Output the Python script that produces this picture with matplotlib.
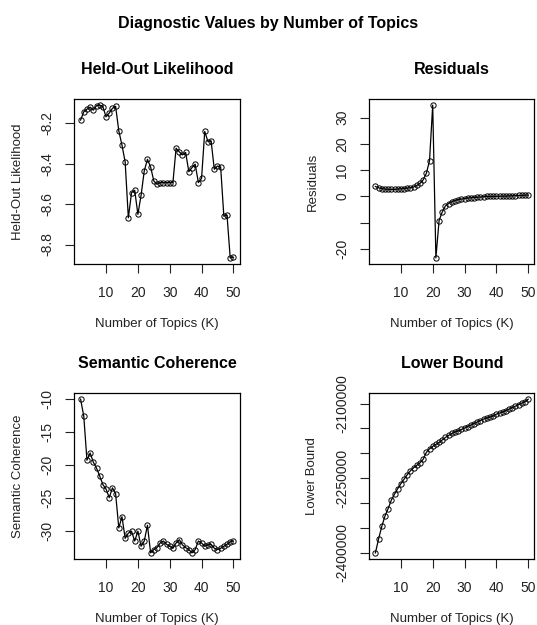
import numpy as np
import matplotlib
matplotlib.use("Agg")
import matplotlib.pyplot as plt

plt.rcParams['font.family'] = ['Liberation Sans', 'DejaVu Sans']

# number of topics
K = list(range(2, 51))

heldout = [-8.185, -8.144, -8.131, -8.121, -8.136, -8.114, -8.111, -8.119, -8.169, -8.150,
           -8.127, -8.117, -8.238, -8.309, -8.392, -8.668, -8.544, -8.532, -8.651, -8.557,
           -8.436, -8.379, -8.417, -8.486, -8.502, -8.494, -8.494, -8.494, -8.494, -8.494,
           -8.324, -8.342, -8.357, -8.345, -8.440, -8.420, -8.403, -8.494, -8.473, -8.241,
           -8.291, -8.288, -8.428, -8.412, -8.417, -8.660, -8.655, -8.866, -8.863]

residuals = [3.8, 3.3, 3.0, 2.8, 2.7, 2.7, 2.7, 2.8, 2.9, 3.0,
             3.2, 3.3, 3.6, 4.2, 5.0, 6.3, 8.8, 13.6, 34.8, -23.4,
             -9.2, -5.9, -3.6, -2.7, -2.0, -1.6, -1.2, -1.0, -0.8, -0.6,
             -0.5, -0.4, -0.3, -0.2, -0.1, 0.0, 0.0, 0.0, 0.1, 0.1,
             0.1, 0.1, 0.2, 0.2, 0.3, 0.4, 0.4, 0.5, 0.5]

semcoh = [-10.0, -12.6, -19.3, -18.2, -19.6, -20.5, -21.7, -23.0, -23.7, -25.0,
          -23.5, -24.4, -29.6, -27.9, -31.2, -30.4, -30.1, -31.6, -30.1, -32.4,
          -31.6, -29.2, -33.4, -32.9, -32.6, -31.9, -31.6, -32.1, -32.4, -32.7,
          -31.9, -31.4, -32.2, -32.6, -32.9, -33.4, -32.9, -31.6, -31.9, -32.4,
          -32.2, -32.1, -32.7, -32.9, -32.7, -32.4, -32.1, -31.7, -31.6]

lbound = [-2400000, -2372000, -2347000, -2326000, -2311000, -2294000, -2282000, -2271000,
          -2261000, -2252000, -2243000, -2235000, -2229000, -2224000, -2219000, -2212000,
          -2198000, -2191000, -2186000, -2182000, -2178000, -2173000, -2168000, -2164000,
          -2160000, -2157000, -2155000, -2152000, -2149000, -2146000, -2143000, -2140000,
          -2137000, -2134000, -2131000, -2129000, -2127000, -2125000, -2121000, -2119000,
          -2117000, -2114000, -2111000, -2108000, -2105000, -2102000, -2099000, -2096000,
          -2091000]

x_ticks = [10, 20, 30, 40, 50]

panels = [
    ("Held-Out Likelihood", heldout, [-8.2, -8.4, -8.6, -8.8], ["-8.2", "-8.4", "-8.6", "-8.8"]),
    ("Residuals", residuals, [-20, -10, 0, 10, 20, 30], ["-20", "", "0", "10", "20", "30"]),
    ("Semantic Coherence", semcoh, [-10, -15, -20, -25, -30], ["-10", "-15", "-20", "-25", "-30"]),
    ("Lower Bound", lbound, list(range(-2400000, -2099999, 50000)),
     ["-2400000", "", "", "-2250000", "", "", "-2100000"]),
]

fig = plt.figure(figsize=(5.37, 6.25), dpi=100)
fig.suptitle("Diagnostic Values by Number of Topics", fontsize=11.5, fontweight="bold", y=0.975)

positions = [
    [0.1387, 0.5776, 0.3073, 0.264],
    [0.6877, 0.5776, 0.3073, 0.264],
    [0.1387, 0.1056, 0.3073, 0.2656],
    [0.6877, 0.1056, 0.3073, 0.2656],
]

for pos, (name, vals, yt, ytl) in zip(positions, panels):
    ax = fig.add_axes(pos)
    ax.plot(K, vals, color="black", lw=0.9, marker="o", ms=3.8, mfc="none", mew=0.7)
    lo, hi = min(vals), max(vals)
    pad = (hi - lo) * 0.04
    ax.set_ylim(lo - pad, hi + pad)
    ax.set_xlim(2 - 48 * 0.04, 50 + 48 * 0.04)
    ax.set_xticks(x_ticks)
    ax.set_yticks(yt)
    ax.set_yticklabels(ytl, rotation=90, va="center")
    ax.tick_params(direction="out", length=6.5, width=0.8, labelsize=10, colors="#222222")
    ax.tick_params(axis="x", pad=9.5)
    ax.tick_params(axis="y", pad=8)
    ax.set_title(name, fontsize=11.5, fontweight="bold", pad=18)
    ax.set_xlabel("Number of Topics (K)", fontsize=9.5, labelpad=13, color="#222222")
    ax.set_ylabel(name, fontsize=9.5, labelpad=12, color="#222222")
    for s in ax.spines.values():
        s.set_linewidth(0.9)

fig.savefig("out.png", dpi=100)
